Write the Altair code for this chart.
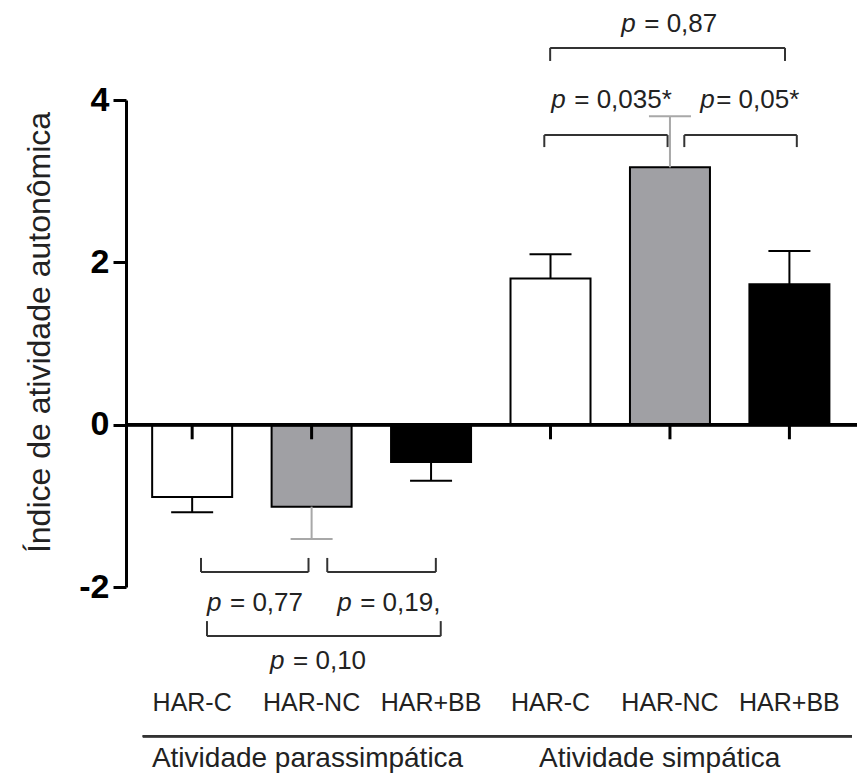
import altair as alt
import pandas as pd

# ---- data ----
groups = ["Atividade parassimpática"] * 3 + ["Atividade simpática"] * 3
labels = ["HAR-C", "HAR-NC", "HAR+BB", "HAR-C", "HAR-NC", "HAR+BB"]
treatment = ["C", "NC", "BB", "C", "NC", "BB"]
means = [-0.89, -1.01, -0.46, 1.80, 3.17, 1.73]
sems = [0.19, 0.40, 0.23, 0.30, 0.63, 0.41]

treat_domain = ["C", "NC", "BB"]
fill_range = ["#ffffff", "#a0a0a4", "#000000"]
err_range = ["#000000", "#a8a8a8", "#000000"]

# annotation content (brackets in data units of the category axis / y axis)
br_x1 = [1.074, 2.131, 1.124, 3.948, 5.120, 3.997]
br_x2 = [1.974, 3.040, 3.081, 4.980, 6.062, 5.963]
br_yline = [-1.815, -1.815, -2.605, 3.568, 3.568, 4.642]
br_yleg = [-1.642, -1.642, -2.420, 3.420, 3.420, 4.481]

p_rest = ["= 0,77", "= 0,19,", "= 0,10", "= 0,87", "= 0,035*", "= 0,05*"]
p_spaced = [True, True, True, True, True, False]
p_x = [1.124, 2.214, 1.652, 4.592, 4.006, 5.253]
p_y = [-2.198, -2.198, -2.914, 4.938, 4.000, 4.000]

group_names = ["Atividade parassimpática", "Atividade simpática"]
group_x = [1.966, 4.914]

FONT = "Liberation Sans"
TXT = "#222222"

# ---- tables ----
df = pd.DataFrame({
    "pos": list(range(1, 7)),
    "label": labels,
    "group": groups,
    "treatment": treatment,
    "mean": means,
    "sem": sems,
})
df["err_end"] = [m + (s if m >= 0 else -s) for m, s in zip(means, sems)]

brackets = pd.DataFrame({"x1": br_x1, "x2": br_x2, "yl": br_yline, "yg": br_yleg})
legs = pd.concat([
    brackets.rename(columns={"x1": "x"})[["x", "yl", "yg"]],
    brackets.rename(columns={"x2": "x"})[["x", "yl", "yg"]],
], ignore_index=True)
pv = pd.DataFrame({"x": p_x, "y": p_y, "rest": p_rest, "p": ["p"] * len(p_x),
                   "spaced": p_spaced})
gl = pd.DataFrame({"x": group_x, "name": group_names})

xscale = alt.Scale(domain=[0.488, 6.524], nice=False, zero=False)
yscale = alt.Scale(domain=[-2, 4], nice=False, zero=False)
fill_scale = alt.Scale(domain=treat_domain, range=fill_range)
err_scale = alt.Scale(domain=treat_domain, range=err_range)

yaxis = alt.Axis(
    values=[-2, 0, 2, 4], grid=False,
    domainColor="black", domainWidth=3,
    tickColor="black", tickWidth=3, tickSize=13,
    labelFont=FONT, labelFontSize=34, labelFontWeight="bold", labelColor="black",
    labelPadding=4, labelExpr="'' + datum.value",
    title="Índice de atividade autonômica", titleFont=FONT, titleFontSize=32,
    titleFontWeight="normal", titleColor=TXT, titleAngle=270,
    titleAlign="center", titleBaseline="middle", titleX=-87, titleY=232,
)

base = alt.Chart(df)

bars = base.mark_bar(size=80, stroke="black", strokeWidth=2).encode(
    x=alt.X("pos:Q", scale=xscale, axis=None),
    y=alt.Y("mean:Q", scale=yscale, axis=yaxis),
    y2=alt.datum(0),
    fill=alt.Fill("treatment:N", scale=fill_scale, legend=None),
)

err = base.mark_rule(strokeWidth=2).encode(
    x="pos:Q", y="mean:Q", y2="err_end:Q",
    color=alt.Color("treatment:N", scale=err_scale, legend=None),
)
caps = base.mark_rule(strokeWidth=2, xOffset=-21, x2Offset=21).encode(
    x="pos:Q", x2="pos:Q", y="err_end:Q",
    color=alt.Color("treatment:N", scale=err_scale, legend=None),
)

zero = alt.Chart(df).mark_rule(strokeWidth=3, color="black").encode(
    y=alt.datum(0)
)
xticks = base.mark_rule(strokeWidth=3, color="black").encode(
    x="pos:Q", y=alt.datum(0), y2=alt.datum(-0.18)
)

br_h = alt.Chart(brackets).mark_rule(strokeWidth=2, color="#333333").encode(
    x="x1:Q", x2="x2:Q", y="yl:Q"
)
br_v = alt.Chart(legs).mark_rule(strokeWidth=2, color="#333333").encode(
    x="x:Q", y="yl:Q", y2="yg:Q"
)

p_it = alt.Chart(pv).mark_text(
    font=FONT, fontSize=26, fontStyle="italic", color=TXT,
    align="left", baseline="middle",
).encode(x="x:Q", y="y:Q", text="p:N")
p_txt_sp = alt.Chart(pv).transform_filter("datum.spaced").mark_text(
    font=FONT, fontSize=26, color=TXT, align="left", baseline="middle", dx=23,
).encode(x="x:Q", y="y:Q", text="rest:N")
p_txt_ns = alt.Chart(pv).transform_filter("!datum.spaced").mark_text(
    font=FONT, fontSize=26, color=TXT, align="left", baseline="middle", dx=16,
).encode(x="x:Q", y="y:Q", text="rest:N")

cat_txt = base.mark_text(
    font=FONT, fontSize=25, color=TXT, baseline="middle"
).encode(x="pos:Q", y=alt.datum(-3.43), text="label:N")

grp_line = alt.Chart(df).mark_rule(strokeWidth=2, color="#333333").encode(
    x=alt.datum(0.587), x2=alt.datum(6.524), y=alt.datum(-3.84)
)
grp_txt = alt.Chart(gl).mark_text(
    font=FONT, fontSize=28, color=TXT, baseline="middle"
).encode(x="x:Q", y=alt.datum(-4.12), text="name:N")

chart = alt.layer(
    bars, err, caps, zero, xticks, br_h, br_v, p_it, p_txt_sp, p_txt_ns,
    cat_txt, grp_line, grp_txt
).properties(
    width=731, height=487,
    autosize=alt.AutoSizeParams(type="none"),
    padding={"left": 118, "top": 92, "right": 0, "bottom": 190},
    background="white",
).configure_view(stroke=None)

chart.save("out.html", embed_options={"renderer": "svg", "actions": False})
